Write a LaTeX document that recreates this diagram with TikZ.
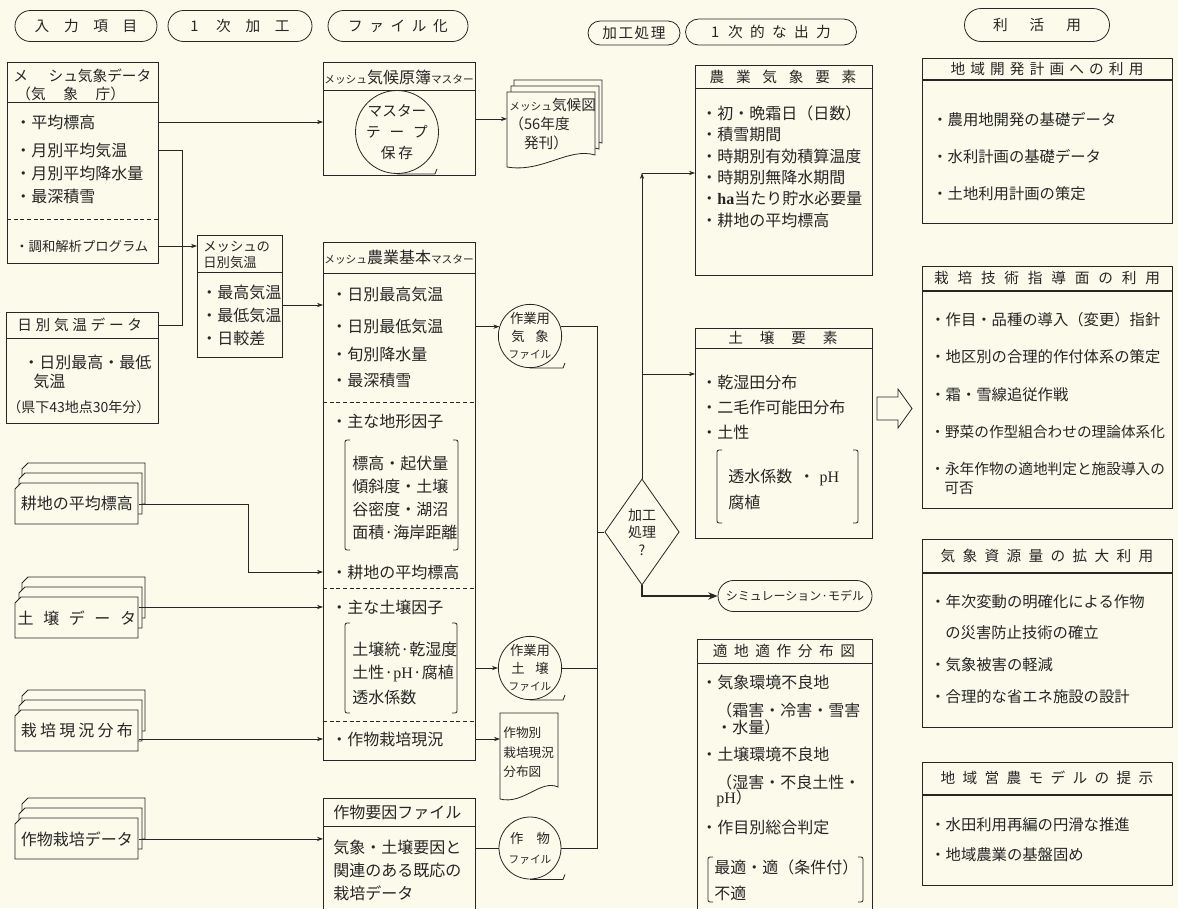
\documentclass[tikz,border=0pt]{standalone}
\usepackage{fontspec}
\setmainfont{Noto Sans CJK JP}
\newfontfamily\serif{Liberation Serif}
\usetikzlibrary{arrows.meta,shapes.geometric,shapes.misc}
\definecolor{paper}{RGB}{251,250,235}
\definecolor{ink}{RGB}{38,38,38}
\newdimen\px \px=0.75pt
\newcommand\gp[1][0.5em]{\hspace{#1}}
\newcommand\ftb{\fontsize{12}{14}\selectfont}
\newcommand\ftr{\fontsize{11.5}{13}\selectfont}
\newcommand\fth{\fontsize{11}{13}\selectfont}
\newcommand\fts{\fontsize{8}{9}\selectfont}
% カード
\newcommand\cardshape[2]{\draw[fill=paper] (#1+6,#2) -- (#1+123,#2) -- (#1+123,#2+41) -- (#1,#2+41) -- (#1,#2+6) -- cycle;}
\newcommand\stack[4]{%
  \cardshape{#2+7}{#3-20}
  \cardshape{#2+4}{#3-10}
  \cardshape{#2}{#3}
  \node[anchor=north west, inner sep=0pt, minimum width=123\px, minimum height=41\px] (#1) at (#2,#3) {#4};}
% 書類
\newcommand\docshape[4]{\draw[fill=paper] (#1,#2) -- (#1+#3,#2) -- (#1+#3,#2+#4) .. controls (#1+0.7*#3,#2+#4-8) and (#1+0.4*#3,#2+#4+18) .. (#1,#2+#4+12) -- cycle;}
\newcommand\hsep[3][]{\draw[#1] (#2.west |- 0,#3) -- (#2.east |- 0,#3);}
\newcommand\brk[4]{\draw[rounded corners=1.5pt] (#1+5,#2) -- (#1,#2) -- (#1,#4) -- (#1+5,#4) (#3-5,#2) -- (#3,#2) -- (#3,#4) -- (#3-5,#4);}
\tikzset{
  frame/.style 2 args={draw, anchor=north west, inner sep=0pt, minimum width=#1\px, minimum height=#2\px},
  tx/.style={anchor=west, inner sep=0pt},
  hd/.style={inner sep=0pt, font=\fth},
  pill/.style={draw, rounded rectangle, inner sep=0pt, minimum height=31\px, font=\fth},
  tape/.style={draw, circle, inner sep=0pt, minimum size=#1\px, align=center},
  dsh/.style={dash pattern=on 3pt off 2pt},
  thk/.style={line width=1.1pt},
}
\begin{document}
\begin{tikzpicture}[x=0.75pt,y=-0.75pt,color=ink,line width=0.6pt,font=\ftb,>={Stealth[length=4.5pt,width=3.2pt]}]
\useasboundingbox (0,0) rectangle (1178,908);
\clip (0,0) rectangle (1178,908);
\fill[paper] (0,0) rectangle (1178,908);
% 見出し
\node[pill, minimum width=142\px] (p1) at (86,26) {入\gp[1em]力\gp[1em]項\gp[1em]目};
\node[pill, minimum width=144\px] (p2) at (240,26) {1\gp[1.2em]次\gp[1em]加\gp[1em]工};
\node[pill, minimum width=140\px] (p3) at (398,26) {フ\gp[0.45em]ァ\gp[0.45em]イ\gp[0.45em]ル\gp[0.45em]化};
\node[pill, minimum width=92\px, minimum height=24\px] (p4) at (634,33) {加\gp[0.1em]工\gp[0.1em]処\gp[0.1em]理};
\node[pill, minimum width=171\px, minimum height=26\px] (p5) at (771,32) {1\gp[0.6em]次\gp[0.5em]的\gp[0.5em]な\gp[0.5em]出\gp[0.5em]力};
\node[pill, minimum width=145\px, minimum height=33\px] (p6) at (1037,25) {利\gp[1.5em]活\gp[1.5em]用};
% 入力項目
\node[frame={151}{201}] (mesh) at (7,62) {};
\node[tx, font=\fth] (mh1) at (13,76) {メ\gp[1.4em]シュ気象データ};
\node[tx, font=\fth] (mh2) at (16,94) {（気\gp[1.2em]象\gp[1.2em]庁）};
\hsep{mesh}{102}
\node[tx] (m1) at (15,122) {・平均標高};
\node[tx] (m2) at (15,150) {・月別平均気温};
\node[tx] (m3) at (15,173) {・月別平均降水量};
\node[tx] (m4) at (15,196) {・最深積雪};
\hsep[dsh]{mesh}{219}
\node[tx, font=\fontsize{10}{12}\selectfont] (m5) at (15,246) {・調和解析プログラム};
\node[frame={152}{111}] (dday) at (6,312) {};
\node[tx, font=\fth] (dh) at (17,325) {日\gp[0.25em]別\gp[0.25em]気\gp[0.25em]温\gp[0.25em]デ\gp[0.25em]ー\gp[0.25em]タ};
\hsep{dday}{338}
\node[tx] (d1) at (23,362) {・日別最高・最低};
\node[tx] (d2) at (33,381) {気温};
\node[tx, font=\fontsize{10.5}{12}\selectfont] (d3) at (7,407) {（県下43地点30年分）};
\stack{kouchi}{15}{483}{耕地の平均標高}
\stack{dojo}{15}{597}{土\gp[0.6em]壌\gp[0.6em]デ\gp[0.6em]ー\gp[0.6em]タ}
\stack{saibai}{15}{710}{栽\gp[0.2em]培\gp[0.2em]現\gp[0.2em]況\gp[0.2em]分\gp[0.2em]布}
\stack{sakumotsu}{15}{818}{作物栽培データ}
% 1次加工
\node[frame={85}{122}] (dtemp) at (197,235) {};
\node[tx, font=\fontsize{10}{11}\selectfont] (dt1) at (203,247) {メッシュの};
\node[tx, font=\fontsize{10}{11}\selectfont] (dt2) at (203,262) {日別気温};
\hsep{dtemp}{272}
\node[tx] (t1) at (201,292) {・最高気温};
\node[tx] (t2) at (201,315) {・最低気温};
\node[tx] (t3) at (201,338) {・日較差};
% ファイル化
\node[frame={152}{113}] (master1) at (323,62) {};
\hsep{master1}{90}
\node[hd, font=\ftb] (mt1) at (399,77) {{\fts メッシュ}気候原簿{\fts マスター}};
\node[tape=74, font=\fontsize{11}{16}\selectfont] (tape) at (397,132) {マスター\\テ\gp[0.6em]ー\gp[0.6em]プ\\保\gp[0.2em]存};
\draw (tape.south) -- ++(38,0) -- ++(2,-5);
\docshape{514}{80}{88}{63}
\docshape{511}{86}{88}{63}
\docshape{507}{92}{88}{63}
\node[anchor=north west, inner sep=2\px, text width=84\px, align=left, minimum height=63\px, font=\fontsize{11}{14}\selectfont] (kikouzu) at (507,92) {{\fts メッシュ}気候図\\（56年度\\\gp[1em]発刊）};
\node[frame={152}{518}] (agri) at (323,242) {};
\hsep{agri}{273}
\node[hd, font=\ftb] (at0) at (399,257) {{\fts メッシュ}農業基本{\fts マスター}};
\node[tx] (a1) at (331,294) {・日別最高気温};
\node[tx] (a2) at (331,326) {・日別最低気温};
\node[tx] (a3) at (331,354) {・旬別降水量};
\node[tx] (a4) at (331,380) {・最深積雪};
\hsep[dsh]{agri}{402}
\node[tx] (a5) at (331,421) {・主な地形因子};
\brk{345}{440}{458}{550}
\node[tx] (b1) at (352,463) {標高・起伏量};
\node[tx] (b2) at (352,486) {傾斜度・土壌};
\node[tx] (b3) at (352,509) {谷密度・湖沼};
\node[tx] (b4) at (352,532) {面積·海岸距離};
\node[tx] (a6) at (331,572) {・耕地の平均標高};
\hsep[dsh]{agri}{588}
\node[tx] (s1) at (331,607) {・主な土壌因子};
\brk{345}{623}{457}{713}
\node[tx] (s2) at (352,649) {土壌統·乾湿度};
\node[tx] (s3) at (352,673) {土性·{\serif pH}·腐植};
\node[tx] (s4) at (352,697) {透水係数};
\hsep[dsh]{agri}{721}
\node[tx] (c1) at (331,739) {・作物栽培現況};
\node[frame={152}{112}] (sakuin) at (323,798) {};
\hsep{sakuin}{826}
\node[tx] (sk0) at (333,812) {作物要因ファイル};
\node[tx] (e1) at (333,847) {気象・土壌要因と};
\node[tx] (e2) at (333,870) {関連のある既応の};
\node[tx] (e3) at (333,893) {栽培データ};
% 作業用ファイル
\node[tape=62, font=\fontsize{10}{13}\selectfont] (kishoF) at (530,336) {作業用\\気\gp[0.8em]象\\{\fts ファイル}};
\draw (kishoF.south) -- ++(33,0) -- ++(2,-5);
\node[tape=62, font=\fontsize{10}{13}\selectfont] (dojoF) at (530,668) {作業用\\土\gp[0.8em]壌\\{\fts ファイル}};
\draw (dojoF.south) -- ++(33,0) -- ++(2,-5);
\node[tape=62, font=\fontsize{10}{15}\selectfont] (sakuF) at (530,848) {作\gp[1em]物\\{\fts ファイル}};
\draw (sakuF.south) -- ++(33,0) -- ++(2,-5);
\docshape{500}{713}{58}{74}
\node[anchor=north west, inner sep=3\px, text width=52\px, align=left, minimum height=78\px, font=\fontsize{9.5}{14.5}\selectfont] (sakubetsu) at (500,713) {作物別\\栽培現況\\分布図};
% 加工処理
\node[draw, diamond, minimum width=64\px, minimum height=106\px, inner sep=0pt, align=center, font=\fontsize{10.5}{13}\selectfont] (shori) at (642,532) {加工\\処理\\?};
\node[pill, minimum width=154\px, minimum height=31\px, font=\fontsize{9}{10}\selectfont] (sim) at (795,596) {シミュレーション·モデル};
\coordinate (bus) at (597,0);
\coordinate (ka) at (642,173);
\coordinate (kd) at (642,374);
% 1次的な出力
\node[frame={177}{210}] (nousou) at (695,65) {};
\hsep{nousou}{88}
\node[hd] (n0) at (783,77) {農\gp[0.8em]業\gp[0.8em]気\gp[0.8em]象\gp[0.8em]要\gp[0.8em]素};
\node[tx] (n1) at (701,113) {・初・晩霜日（日数）};
\node[tx] (n2) at (701,134) {・積雪期間};
\node[tx] (n3) at (701,156) {・時期別有効積算温度};
\node[tx] (n4) at (701,177) {・時期別無降水期間};
\node[tx] (n5) at (701,198) {・{\serif\bfseries ha}当たり貯水必要量};
\node[tx] (n6) at (701,220) {・耕地の平均標高};
\node[frame={177}{210}] (dojou) at (695,328) {};
\hsep{dojou}{348}
\node[hd] (j0) at (783,338) {土\gp[1.15em]壌\gp[1.15em]要\gp[1.15em]素};
\node[tx] (j1) at (701,382) {・乾湿田分布};
\node[tx] (j2) at (701,407) {・二毛作可能田分布};
\node[tx] (j3) at (701,432) {・土性};
\brk{717}{450}{858}{523}
\node[tx] (j4) at (728,477) {透水係数\gp[0.4em]・\gp[0.3em]{\serif pH}};
\node[tx] (j5) at (728,502) {腐植};
\node[frame={175}{275}] (tekichi) at (697,639) {};
\hsep{tekichi}{663}
\node[hd] (w0) at (784,651) {適\gp[0.45em]地\gp[0.45em]適\gp[0.45em]作\gp[0.45em]分\gp[0.45em]布\gp[0.45em]図};
\node[tx] (w1) at (701,682) {・気象環境不良地};
\node[tx] (w2) at (716,710) {（霜害・冷害・雪害};
\node[tx] (w3) at (716,727) {・水量）};
\node[tx] (w4) at (701,754) {・土壌環境不良地};
\node[tx] (w5) at (716,782) {（湿害・不良土性・};
\node[tx] (w6) at (716,798) {{\serif pH}）};
\node[tx] (w7) at (701,827) {・作目別総合判定};
\brk{708}{857}{863}{902}
\node[tx] (w8) at (714,867) {最適・適（条件付）};
\node[tx] (w9) at (714,893) {不適};
% 利活用
\node[frame={250}{165}, thk] (r1) at (922,58) {};
\hsep[thk]{r1}{80}
\node[hd] (r1h) at (1047,69) {地\gp[0.35em]域\gp[0.35em]開\gp[0.35em]発\gp[0.35em]計\gp[0.35em]画\gp[0.35em]へ\gp[0.35em]の\gp[0.35em]利\gp[0.35em]用};
\node[tx, font=\ftr] (u1) at (932,120) {・農用地開発の基礎データ};
\node[tx, font=\ftr] (u2) at (932,157) {・水利計画の基礎データ};
\node[tx, font=\ftr] (u3) at (932,194) {・土地利用計画の策定};
\node[frame={250}{242}, thk] (r2) at (922,266) {};
\hsep[thk]{r2}{291}
\node[hd] (r2h) at (1047,278) {栽\gp[0.6em]培\gp[0.6em]技\gp[0.6em]術\gp[0.6em]指\gp[0.6em]導\gp[0.6em]面\gp[0.6em]の\gp[0.6em]利\gp[0.6em]用};
\node[tx, font=\ftr] (v1) at (930,320) {・作目・品種の導入（変更）指針};
\node[tx, font=\ftr] (v2) at (930,357) {・地区別の合理的作付体系の策定};
\node[tx, font=\ftr] (v3) at (930,395) {・霜・雪線追従作戦};
\node[tx, font=\fth] (v4) at (930,432) {・野菜の作型組合わせの理論体系化};
\node[tx, font=\fth] (v5) at (930,469) {・永年作物の適地判定と施設導入の};
\node[tx, font=\fth] (v6) at (944,488) {可否};
\node[frame={250}{188}, thk] (r3) at (922,539) {};
\hsep[thk]{r3}{573}
\node[hd] (r3h) at (1047,556) {気\gp[0.5em]象\gp[0.5em]資\gp[0.5em]源\gp[0.5em]量\gp[0.5em]の\gp[0.5em]拡\gp[0.5em]大\gp[0.5em]利\gp[0.5em]用};
\node[tx, font=\ftr] (x1) at (930,602) {・年次変動の明確化による作物};
\node[tx, font=\ftr] (x2) at (945,633) {の災害防止技術の確立};
\node[tx, font=\ftr] (x3) at (930,665) {・気象被害の軽減};
\node[tx, font=\ftr] (x4) at (930,697) {・合理的な省エネ施設の設計};
\node[frame={250}{123}, thk] (r4) at (922,762) {};
\hsep[thk]{r4}{795}
\node[hd] (r4h) at (1047,778) {地\gp[0.5em]域\gp[0.5em]営\gp[0.5em]農\gp[0.5em]モ\gp[0.5em]デ\gp[0.5em]ル\gp[0.5em]の\gp[0.5em]提\gp[0.5em]示};
\node[tx, font=\ftr] (y1) at (930,825) {・水田利用再編の円滑な推進};
\node[tx, font=\ftr] (y2) at (930,855) {・地域農業の基盤固め};
% 矢印
\draw[->] (mesh.east |- m1) -- (master1.west |- m1);
\draw (mesh.east |- m2) -| (182,246);
\draw (dday.east |- dh) -| (182,246);
\draw[->] (mesh.east |- m5) -- (dtemp.west |- m5);
\draw[->] (dtemp.east |- 0,305) -- (agri.west |- 0,305);
\draw[->] (master1.east) -- (master1.east -| kikouzu.west);
\draw[->] (kouchi.east) -- ++(110,0) |- (agri.west |- a6);
\draw[->] (dojo.east |- s1) -- (agri.west |- s1);
\draw[->] (saibai.east |- c1) -- (agri.west |- c1);
\draw[->] (sakumotsu.east) -- (sakumotsu.east -| sakuin.west);
\draw[->] (agri.east |- kishoF.163) -- (kishoF.163);
\draw[->] (agri.east |- dojoF.west) -- (dojoF.west);
\draw[->] (agri.east |- c1) -- (sakubetsu.west |- c1);
\draw (sakuin.east |- sakuF.west) -- (sakuF.west);
\draw (kishoF.17) -| (bus |- sakuF.east) -- (sakuF.east);
\draw (dojoF.east) -- (bus |- dojoF.east);
\draw (bus |- shori.west) -- (shori.west);
\draw[->] (shori.north) -- (ka);
\draw[->] (ka) -- (ka -| nousou.west);
\draw[->] (kd) -- (kd -| dojou.west);
\draw[->, line width=1.6pt, >={Stealth[length=7pt,width=5.5pt]}] (shori.south) |- (sim.west);
\draw[fill=paper] (877,397) -- (898,397) -- (898,389) -- (912,408.5) -- (898,428) -- (898,420) -- (877,420) -- cycle;
\end{tikzpicture}
\end{document}
